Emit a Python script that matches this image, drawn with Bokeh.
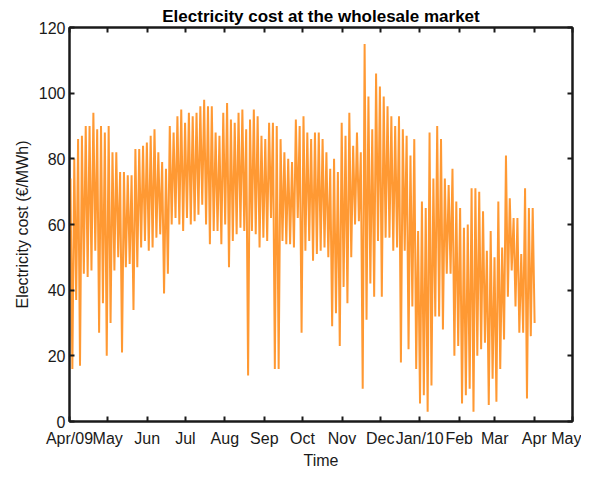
import pandas as pd
from bokeh.plotting import figure
from bokeh.models import FixedTicker, LinearAxis, DatetimeAxis, Range1d
from bokeh.embed import file_html
from bokeh.resources import INLINE

# ---- data: 3-day bins, highest and lowest price in each bin ----
series_start = "2009-04-01"
bin_days = 3
bin_high = [74, 80, 86, 87, 90, 90, 94, 89, 90, 88, 90, 82, 82, 76, 76, 75, 75, 83, 83, 84,
            85, 87, 89, 82, 79, 77, 90, 88, 93, 95, 91, 94, 93, 94, 96, 98, 96, 96, 88, 87,
            94, 97, 92, 91, 94, 95, 89, 92, 95, 93, 87, 86, 91, 91, 90, 86, 82, 80, 79, 92,
            90, 93, 88, 86, 88, 88, 86, 82, 77, 80, 76, 91, 87, 94, 84, 88, 82, 115, 99, 89,
            106, 102, 99, 96, 93, 90, 93, 89, 87, 81, 86, 58, 67, 65, 88, 74, 90, 86, 74, 72,
            77, 67, 65, 59, 60, 71, 71, 70, 64, 52, 58, 50, 67, 53, 81, 68, 62, 62, 51, 71,
            65, 65]
bin_low = [16, 37, 17, 45, 44, 46, 52, 27, 36, 20, 30, 46, 50, 21, 47, 48, 34, 47, 53, 55,
           52, 53, 56, 57, 39, 45, 60, 62, 60, 58, 62, 60, 61, 63, 66, 60, 54, 58, 58, 54,
           60, 47, 55, 57, 59, 58, 14, 58, 57, 53, 56, 55, 62, 16, 16, 55, 54, 54, 53, 62,
           27, 52, 55, 49, 51, 52, 53, 50, 29, 33, 23, 41, 36, 50, 60, 61, 10, 31, 42, 38,
           55, 38, 56, 56, 52, 53, 18, 52, 22, 35, 16, 5.5, 8, 3, 11, 32, 32, 28, 45, 45,
           20, 23, 5.5, 8, 10, 3, 20, 22, 24, 5, 13, 6, 16, 25, 38, 46, 35, 27, 27, 7,
           26, 30]

month_starts = ["2009-04-01", "2009-05-01", "2009-06-01", "2009-07-01", "2009-08-01",
                "2009-09-01", "2009-10-01", "2009-11-01", "2009-12-01", "2010-01-01",
                "2010-02-01", "2010-03-01", "2010-04-01", "2010-05-01"]
month_labels = ["Apr/09", "May", "Jun", "Jul", "Aug", "Sep", "Oct", "Nov", "Dec",
                "Jan/10", "Feb", "Mar", "Apr", "May"]
y_ticks = [0, 20, 40, 60, 80, 100, 120]

# ---- build the line (high then low in each bin) ----
t0 = pd.Timestamp(series_start)
times, prices = [], []
for i, (h, l) in enumerate(zip(bin_high, bin_low)):
    times.append(t0 + pd.Timedelta(days=bin_days * i + 0.75))
    prices.append(h)
    times.append(t0 + pd.Timedelta(days=bin_days * i + 2.25))
    prices.append(l)

tick_ms = [int(pd.Timestamp(d).value // 10**6) for d in month_starts]
overrides = {ms: lab for ms, lab in zip(tick_ms, month_labels)}

FONT = "Liberation Sans"
INK = "#1a1a1a"

p = figure(width=581, height=471, x_axis_type="datetime",
           output_backend="svg", toolbar_location=None,
           x_range=Range1d(pd.Timestamp(month_starts[0]), pd.Timestamp(month_starts[-1])),
           y_range=Range1d(0, 120),
           min_border_left=69, min_border_right=9, min_border_top=27, min_border_bottom=46,
           title="Electricity cost at the wholesale market")

p.line(times, prices, line_color="#ff9933", line_width=2.0, line_join="miter")

p.title.align = "center"
p.title.text_font = FONT
p.title.text_font_size = "17px"
p.title.text_font_style = "bold"
p.title.text_color = "#000000"
p.title.offset = 0
p.title.standoff = 4

p.xgrid.visible = False
p.ygrid.visible = False
p.outline_line_color = INK
p.outline_line_width = 2
p.background_fill_color = "white"
p.border_fill_color = "white"

def style_axis(ax, show_labels):
    ax.axis_line_color = INK
    ax.axis_line_width = 2
    ax.major_tick_in = 5
    ax.major_tick_out = 0
    ax.major_tick_line_color = INK
    ax.major_tick_line_width = 2
    ax.minor_tick_line_color = None
    ax.major_label_text_font = FONT
    ax.major_label_text_color = INK
    if show_labels:
        ax.major_label_text_font_size = "16px"
    else:
        ax.major_label_text_font_size = "1px"
        ax.major_label_text_color = None
        ax.major_label_standoff = 0

xb = p.xaxis[0]
xb.ticker = FixedTicker(ticks=tick_ms)
xb.major_label_overrides = overrides
xb.axis_label = "Time"
style_axis(xb, True)
xb.major_label_standoff = 8
xb.axis_label_text_font = FONT
xb.axis_label_text_font_size = "16px"
xb.axis_label_text_font_style = "normal"
xb.axis_label_text_color = INK
xb.axis_label_standoff = 2

yl = p.yaxis[0]
yl.ticker = FixedTicker(ticks=y_ticks)
yl.axis_label = "Electricity cost (€/MWh)"
style_axis(yl, True)
yl.major_label_standoff = 4
yl.axis_label_text_font = FONT
yl.axis_label_text_font_size = "16px"
yl.axis_label_text_font_style = "normal"
yl.axis_label_text_color = INK
yl.axis_label_standoff = 5

yr = LinearAxis(ticker=FixedTicker(ticks=y_ticks))
style_axis(yr, False)
p.add_layout(yr, "right")

xt = DatetimeAxis(ticker=FixedTicker(ticks=tick_ms))
style_axis(xt, False)
p.add_layout(xt, "above")

open("out.html", "w").write(file_html(p, INLINE))
